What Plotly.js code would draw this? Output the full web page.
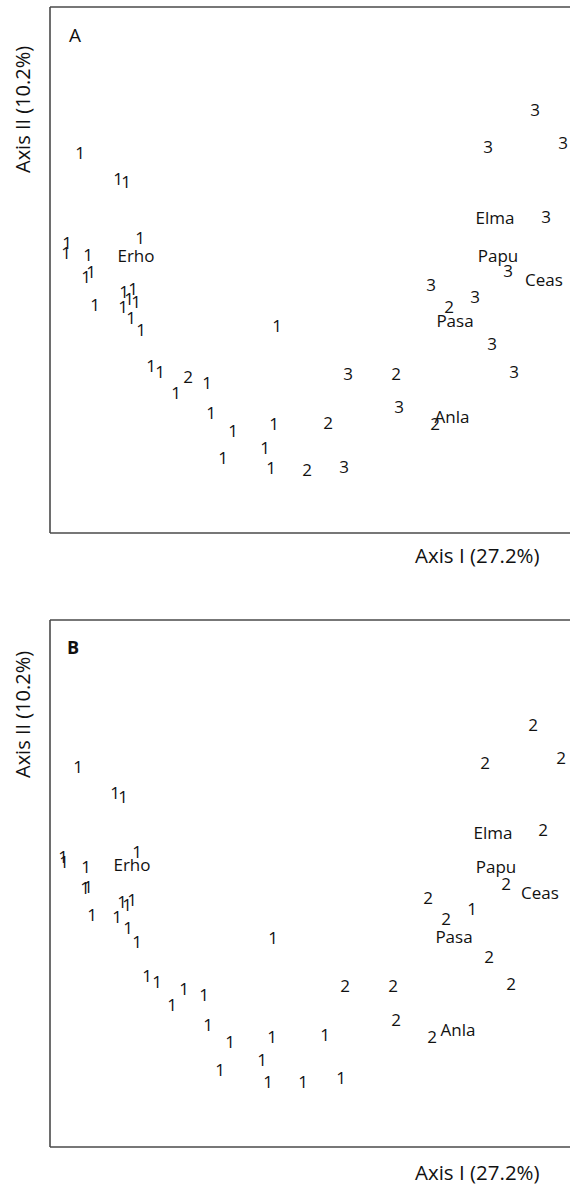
<!DOCTYPE html>
<html>
<head>
<meta charset="utf-8">
<script src="https://cdn.plot.ly/plotly-3.0.1.min.js"></script>
<style>html,body{margin:0;padding:0;background:#fff;}#chart{width:570px;height:1185px;}</style>
</head>
<body>
<div id="chart"></div>
<script>
// ---------- Panel A (three groups) ----------
const aG1x = [6.0,13.6,15.2,3.4,3.2,7.6,18.0,7.2,8.2,14.8,16.6,9.0,14.6,15.8,17.2,16.2,18.2,45.4,20.2,22.0,25.2,31.4,32.2,36.6,44.8,43.0,34.6,44.2];
const aG1y = [76.0,70.8,70.2,58.0,56.0,55.6,59.0,51.2,52.2,48.2,48.8,45.6,45.2,46.8,46.2,43.0,40.6,41.4,33.4,32.2,28.0,30.0,24.0,20.4,21.8,17.0,15.0,13.0];
const aG2x = [27.6,79.8,69.2,77.0,55.6,51.4];
const aG2y = [31.2,45.2,31.8,21.8,22.0,12.6];
const aG3x = [97.0,87.6,102.6,99.2,91.6,76.2,85.0,88.4,92.8,59.6,69.8,58.8];
const aG3y = [84.6,77.2,78.0,63.2,52.4,49.6,47.2,37.8,32.2,31.8,25.2,13.2];

// ---------- Panel B (two groups) ----------
const bG1x = [5.6,13.0,14.6,2.6,2.8,7.2,17.4,7.0,7.6,14.4,15.4,16.4,8.4,13.4,15.6,17.4,44.6,19.4,21.4,26.8,24.4,30.8,31.6,36.0,44.4,42.4,34.0,43.6,84.4,55.0,50.6,58.2];
const bG1y = [76.0,70.8,70.0,58.0,57.0,56.0,59.0,51.8,52.0,49.0,48.4,49.4,46.4,46.0,43.8,41.0,41.8,34.2,33.0,31.6,28.4,30.4,24.4,21.0,22.0,17.4,15.4,13.0,47.6,22.4,13.0,13.8];
const bG2x = [96.6,87.0,102.2,98.6,91.2,75.6,79.2,87.8,92.2,59.0,68.6,69.2,76.4];
const bG2y = [84.4,76.8,77.8,63.4,52.6,49.8,45.6,38.0,32.6,32.2,32.2,25.4,22.0];

// ---------- Species ----------
const species = ["Erho","Elma","Papu","Ceas","Pasa","Anla"];
const aSpx = [17.2,89.0,89.6,98.8,81.0,80.4];
const aSpy = [55.4,63.0,55.4,50.6,42.4,23.2];
const bSpx = [16.4,88.6,89.2,98.0,80.8,81.6];
const bSpy = [56.4,62.8,56.0,50.8,42.0,23.4];

const panelLabels = ["A","B"];
const xTitle = "Axis I (27.2%)";
const yTitle = "Axis II (10.2%)";

const FONT = "Open Sans, Noto Sans, sans-serif";
const TXT = "#111111";

function txtTrace(xs, ys, labels, xa, ya){
  return {
    type:"scatter", mode:"text", x:xs, y:ys,
    text: Array.isArray(labels) ? labels : xs.map(()=>labels),
    textposition:"middle center",
    textfont:{family:FONT, size:17, color:TXT},
    xaxis:xa, yaxis:ya, hoverinfo:"skip", showlegend:false, cliponaxis:false
  };
}

const data = [
  txtTrace(aG1x,aG1y,"1","x","y"),
  txtTrace(aG2x,aG2y,"2","x","y"),
  txtTrace(aG3x,aG3y,"3","x","y"),
  txtTrace(aSpx,aSpy,species,"x","y"),
  txtTrace(bG1x,bG1y,"1","x2","y2"),
  txtTrace(bG2x,bG2y,"2","x2","y2"),
  txtTrace(bSpx,bSpy,species,"x2","y2")
];

// pixel -> paper helpers (plot area: x 50..570, y 7..1147)
const L=50, R=570, T=7, B=1147;
const px = v => (v-L)/(R-L);
const py = v => (B-v)/(B-T);

const ax = {showgrid:false, zeroline:false, showticklabels:false, ticks:"", showline:false, fixedrange:true};
const lineStyle = {color:"#4a4a4a", width:1.6};

const shapes = [];
[[7,533],[620,1147]].forEach(([top,bot])=>{
  shapes.push({type:"line", xref:"paper", yref:"paper", x0:0, x1:0, y0:py(bot), y1:py(top), line:lineStyle});
  shapes.push({type:"line", xref:"paper", yref:"paper", x0:0, x1:1, y0:py(top), y1:py(top), line:lineStyle});
  shapes.push({type:"line", xref:"paper", yref:"paper", x0:0, x1:1, y0:py(bot), y1:py(bot), line:lineStyle});
});

const annotations = [
  {text:panelLabels[0], x:px(74.5), y:py(35), xref:"paper", yref:"paper", showarrow:false, xanchor:"center", yanchor:"middle", font:{family:FONT, size:19, color:TXT}},
  {text:"<b>"+panelLabels[1]+"</b>", x:px(72.5), y:py(647), xref:"paper", yref:"paper", showarrow:false, xanchor:"center", yanchor:"middle", font:{family:FONT, size:18, color:TXT}},
  {text:xTitle, x:px(542), y:py(555), xref:"paper", yref:"paper", showarrow:false, xanchor:"right", yanchor:"middle", font:{family:FONT, size:20.5, color:TXT}},
  {text:xTitle, x:px(542), y:py(1172), xref:"paper", yref:"paper", showarrow:false, xanchor:"right", yanchor:"middle", font:{family:FONT, size:20.5, color:TXT}},
  {text:yTitle, x:px(23), y:py(110), xref:"paper", yref:"paper", showarrow:false, textangle:-90, xanchor:"center", yanchor:"middle", font:{family:FONT, size:20, color:TXT}},
  {text:yTitle, x:px(23), y:py(715), xref:"paper", yref:"paper", showarrow:false, textangle:-90, xanchor:"center", yanchor:"middle", font:{family:FONT, size:20, color:TXT}}
];

const layout = {
  width:570, height:1185,
  margin:{l:L, r:570-R, t:T, b:1185-B, pad:0},
  paper_bgcolor:"#fff", plot_bgcolor:"#fff",
  showlegend:false,
  xaxis:Object.assign({}, ax, {domain:[0,1], range:[0,104], anchor:"y"}),
  yaxis:Object.assign({}, ax, {domain:[py(533),1], range:[0.4,105.6], anchor:"x"}),
  xaxis2:Object.assign({}, ax, {domain:[0,1], range:[0,104], anchor:"y2"}),
  yaxis2:Object.assign({}, ax, {domain:[0,py(620)], range:[0.4,105.8], anchor:"x2"}),
  shapes:shapes,
  annotations:annotations
};

Plotly.newPlot("chart", data, layout, {staticPlot:true, displayModeBar:false});
</script>
</body>
</html>
